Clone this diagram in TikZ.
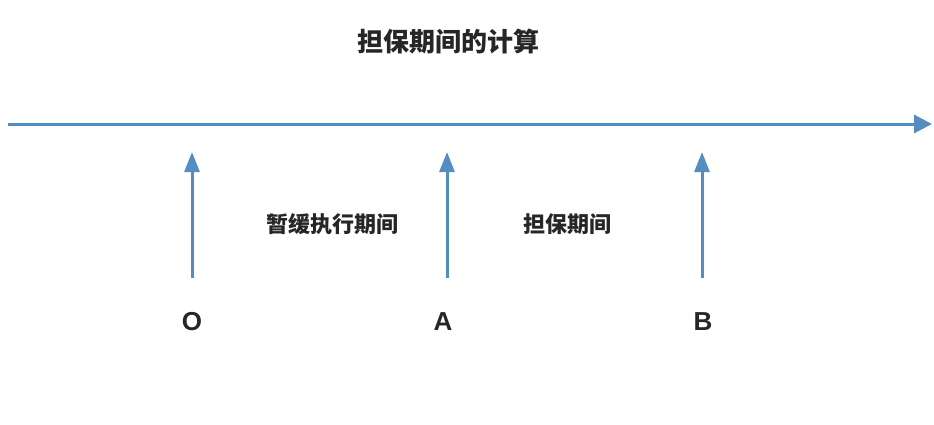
\documentclass[tikz,border=0pt]{standalone}
\usepackage{fontspec}
\newfontfamily\cjk{Noto Sans CJK SC}
\setmainfont{Liberation Sans}
\usetikzlibrary{arrows.meta}
\definecolor{ax}{RGB}{84,141,196}
\definecolor{tx}{RGB}{38,38,38}
\begin{document}
\begin{tikzpicture}[x=1pt,y=-1pt,
  axisline/.style={draw=ax,line width=3pt,-{Triangle[length=18pt,width=18pt]}},
  uparrow/.style={draw=ax,line width=3pt,-{Triangle[length=20pt,width=15pt]}},
  lbl/.style={text=tx,font=\cjk\bfseries\fontsize{22}{26}\selectfont},
  ltr/.style={text=tx,font=\bfseries\fontsize{26}{30}\selectfont}]
\useasboundingbox (0,0) rectangle (934,424);
\node[text=tx,font=\cjk\bfseries\fontsize{26}{30}\selectfont] (title) at (448,42) {担保期间的计算};
\coordinate (s) at (8,124);
\coordinate (e) at (932,124);
\draw[axisline] (s) -- (e);
\coordinate (o1) at (192,278); \coordinate (o2) at (192,152);
\coordinate (a1) at (447,278); \coordinate (a2) at (447,152);
\coordinate (b1) at (702,278); \coordinate (b2) at (702,152);
\draw[uparrow] (o1) -- (o2);
\draw[uparrow] (a1) -- (a2);
\draw[uparrow] (b1) -- (b2);
\node[lbl] (t1) at (332,224) {暂缓执行期间};
\node[lbl] (t2) at (567,224) {担保期间};
\node[ltr] (O) at (192,322) {O};
\node[ltr] (A) at (443,322) {A};
\node[ltr] (B) at (703,322) {B};
\end{tikzpicture}
\end{document}
